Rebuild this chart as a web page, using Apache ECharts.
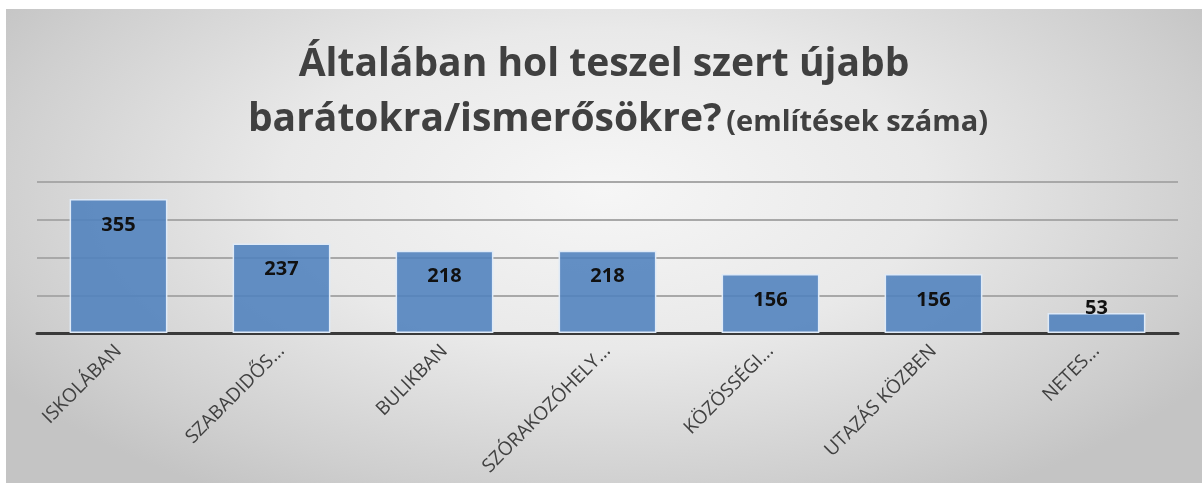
<!DOCTYPE html>
<html>
<head>
<meta charset="utf-8">
<script src="https://cdn.jsdelivr.net/npm/echarts@6/dist/echarts.min.js"></script>
<style>
  html, body { margin: 0; padding: 0; background: #ffffff; }
  #main {
    position: absolute; left: 6px; top: 9px; width: 1196px; height: 474px;
    background: radial-gradient(ellipse 60% 75% at 50% 38%, #f6f6f6 0%, #e9e9e9 45%, #cfcfcf 85%, #c4c4c4 100%);
  }
</style>
</head>
<body>
<div id="main"></div>
<script>
// kategóriák és értékek (említések száma)
var categories = ["ISKOLÁBAN", "SZABADIDŐS...", "BULIKBAN", "SZÓRAKOZÓHELY...", "KÖZÖSSÉGI...", "UTAZÁS KÖZBEN", "NETES..."];
var values = [355, 237, 218, 218, 156, 156, 53];
var yMin = 0, yMax = 400, yStep = 100;

var barData = values.map(function (v) {
  // a kicsi oszlopnál a címke kilóg a tetején
  if (v < 100) {
    return { value: v, label: { position: "top", distance: -5 } };
  }
  return v;
});

var myChart = echarts.init(document.getElementById("main"));
myChart.setOption({
  textStyle: { fontFamily: "Open Sans" },
  title: {
    left: "center",
    top: 28,
    padding: 0,
    text: "{a|Általában hol teszel szert újabb}\n{c|barátokra/ismerősökre?} {b|(említések száma)}",
    textStyle: {
      rich: {
        a: { fontFamily: "Open Sans", fontWeight: "bold", fontSize: 39, color: "#404040", lineHeight: 55 },
        c: { fontFamily: "Open Sans", fontWeight: "bold", fontSize: 39, color: "#404040", lineHeight: 55, padding: [0, 0, 0, 28] },
        b: { fontFamily: "Open Sans", fontWeight: "bold", fontSize: 29, color: "#404040", lineHeight: 48, padding: [7, 0, 0, 0] }
      }
    }
  },
  grid: { left: 31, right: 24, top: 173, bottom: 150 },
  xAxis: {
    type: "category",
    data: categories,
    axisTick: { show: false },
    axisLine: { lineStyle: { color: "#3a3a3a", width: 3 } },
    axisLabel: { rotate: 45, margin: 15, fontSize: 19, color: "#404040", fontFamily: "Open Sans", interval: 0 }
  },
  yAxis: {
    type: "value",
    min: yMin, max: yMax, interval: yStep,
    axisLabel: { show: false },
    axisLine: { show: false },
    axisTick: { show: false },
    splitLine: { lineStyle: { color: "#a8a8a8", width: 2 } }
  },
  series: [{
    type: "bar",
    data: barData,
    barWidth: "60%",
    itemStyle: { color: "rgba(79,129,189,0.88)", borderColor: "#dfeaf7", borderWidth: 1.5 },
    label: {
      show: true,
      position: "insideTop",
      distance: 16,
      fontFamily: "Open Sans",
      fontWeight: "bold",
      fontSize: 20,
      color: "#111111"
    }
  }]
});
</script>
</body>
</html>
